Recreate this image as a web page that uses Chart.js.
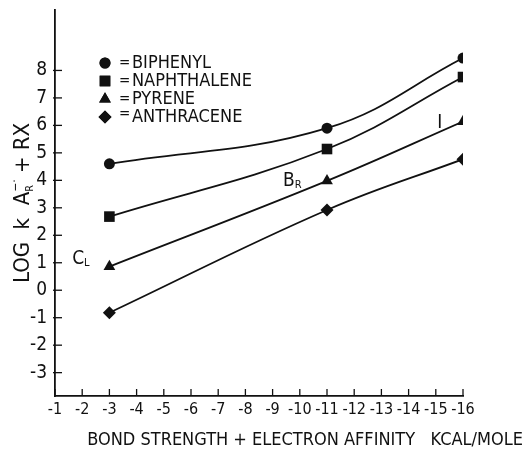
<!DOCTYPE html>
<html>
<head>
<meta charset="utf-8">
<script src="https://cdn.jsdelivr.net/npm/chart.js@4/dist/chart.umd.min.js"></script>
<style>
  html, body { margin: 0; padding: 0; background: #fff; }
  #wrap { width: 526px; height: 450px; position: relative; }
</style>
</head>
<body>
<div id="wrap"><canvas id="chart"></canvas></div>
<script>
// values
const xValues = [-3, -11, -16];
const biphenyl = [4.6, 5.9, 8.45];
const naphthalene = [2.68, 5.14, 7.76];
const pyrene = [0.86, 3.98, 6.14];
const anthracene = [-0.82, 2.92, 4.77];

const seriesNames = ["BIPHENYL", "NAPHTHALENE", "PYRENE", "ANTHRACENE"];
const xTicks = [-1, -2, -3, -4, -5, -6, -7, -8, -9, -10, -11, -12, -13, -14, -15, -16];
const yTicks = [-3, -2, -1, 0, 1, 2, 3, 4, 5, 6, 7, 8];

// halide labels on the curves: [big letter, small letter, x, y]
const halides = [["C", "L", -1.85, 1.2], ["B", "R", -9.6, 4.05], ["I", "", -15.15, 6.15]];

const FONT = "'DejaVu Sans Condensed', 'Liberation Sans Narrow', sans-serif";
const INK = "#111";

const toPoints = ys => ys.map((y, i) => ({ x: xValues[i], y: y }));

const styles = [
    { pointStyle: "circle", pointRadius: 5.5 },
    { pointStyle: "rect", pointRadius: 7.5 },
    { pointStyle: "triangle", pointRadius: 6.8 },
    { pointStyle: "rectRot", pointRadius: 6.5 }
];

const datasets = [biphenyl, naphthalene, pyrene, anthracene].map((ys, i) => ({
    label: seriesNames[i],
    data: toPoints(ys),
    borderColor: INK,
    backgroundColor: INK,
    borderWidth: 1.8,
    pointBorderWidth: 0,
    pointStyle: styles[i].pointStyle,
    pointRadius: styles[i].pointRadius,
    tension: 0.4,
    fill: false
}));

// small tick marks pointing into the plot, legend, titles and halide labels
const decorations = {
    id: "decorations",
    afterDraw(chart) {
        const ctx = chart.ctx;
        const xs = chart.scales.x, ys = chart.scales.y;
        const area = chart.chartArea;
        ctx.save();
        ctx.strokeStyle = INK;
        ctx.lineWidth = 1.3;
        xTicks.forEach(v => {
            const px = xs.getPixelForValue(v);
            ctx.beginPath();
            ctx.moveTo(px, area.bottom);
            ctx.lineTo(px, area.bottom - 7);
            ctx.stroke();
        });
        yTicks.forEach(v => {
            const py = ys.getPixelForValue(v);
            ctx.beginPath();
            ctx.moveTo(area.left - 2, py);
            ctx.lineTo(area.left + 7, py);
            ctx.stroke();
        });

        // legend
        ctx.fillStyle = INK;
        ctx.textBaseline = "middle";
        ctx.textAlign = "left";
        datasets.forEach((ds, i) => {
            const y = 63 + i * 18;
            Chart.helpers.drawPoint(ctx, { pointStyle: ds.pointStyle, radius: ds.pointRadius, rotation: 0, borderWidth: 0 }, 105, y);
            ctx.fill();
            ctx.font = "15px " + FONT;
            ctx.fillText("=", 119, y - (i === 3 ? 3 : 0));
            ctx.font = "18px " + FONT;
            ctx.fillText(ds.label, 132, y);
        });

        // halide labels
        halides.forEach(h => {
            const px = xs.getPixelForValue(h[2]);
            const py = ys.getPixelForValue(h[3]);
            ctx.font = "19px " + FONT;
            ctx.textAlign = "left";
            ctx.textBaseline = "alphabetic";
            const w = ctx.measureText(h[0]).width;
            ctx.fillText(h[0], px - w / 2, py + 7);
            if (h[1]) {
                ctx.font = "11px " + FONT;
                ctx.fillText(h[1], px + w / 2, py + 9);
            }
        });

        // x title
        ctx.font = "18px " + FONT;
        ctx.textAlign = "right";
        ctx.textBaseline = "middle";
        ctx.fillText("BOND STRENGTH + ELECTRON AFFINITY   KCAL/MOLE", 523, 440);

        // y title, rotated, with sub and superscript
        ctx.translate(21, (area.top + area.bottom) / 2);
        ctx.rotate(-Math.PI / 2);
        ctx.textBaseline = "alphabetic";
        ctx.textAlign = "left";
        const parts = [
            ["LOG  k  A", 22, 0],
            ["R", 11, 4],
            ["\u2212\u00b7", 12, -10],
            [" + RX", 22, 0]
        ];
        let total = 0;
        parts.forEach((p, i) => { ctx.font = p[1] + "px " + FONT; if (i !== 1) total += ctx.measureText(p[0]).width; });
        let cx = -total / 2;
        parts.forEach((p, i) => {
            ctx.font = p[1] + "px " + FONT;
            ctx.fillText(p[0], cx, 8 + p[2]);
            if (i !== 1) cx += ctx.measureText(p[0]).width;
        });
        ctx.restore();
    }
};

new Chart(document.getElementById("chart").getContext("2d"), {
    type: "line",
    data: { datasets: datasets },
    options: {
        responsive: true,
        maintainAspectRatio: false,
        animation: false,
        layout: { padding: { top: 10, right: 63, left: 0, bottom: 0 } },
        plugins: {
            legend: { display: false },
            tooltip: { enabled: false }
        },
        scales: {
            x: {
                type: "linear",
                reverse: true,
                min: -16,
                max: -1,
                afterBuildTicks: scale => { scale.ticks = xTicks.map(v => ({ value: v })); },
                afterFit: scale => { scale.height = 54; },
                grid: { display: true, drawOnChartArea: false, drawTicks: false },
                border: { display: true, color: INK, width: 1.8 },
                ticks: { color: INK, padding: 4, maxRotation: 0, autoSkip: false, font: { family: FONT, size: 16 } }
            },
            y: {
                type: "linear",
                min: -3.85,
                max: 10.2,
                afterBuildTicks: scale => { scale.ticks = yTicks.map(v => ({ value: v })); },
                afterFit: scale => { scale.width = 55; scale.paddingTop = 0; scale.paddingBottom = 0; },
                grid: { display: true, drawOnChartArea: false, drawTicks: false },
                border: { display: true, color: INK, width: 1.8 },
                ticks: { color: INK, padding: 8, autoSkip: false, font: { family: FONT, size: 19 } }
            }
        }
    },
    plugins: [decorations]
});
</script>
</body>
</html>
